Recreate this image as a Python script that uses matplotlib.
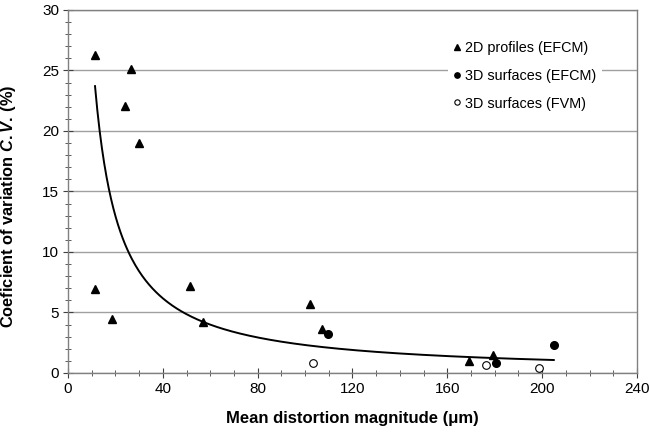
import numpy as np
import matplotlib
matplotlib.use('Agg')
import matplotlib.pyplot as plt
from matplotlib.ticker import MultipleLocator

plt.rcParams['font.family'] = ['Liberation Sans', 'DejaVu Sans']
plt.rcParams['mathtext.fontset'] = 'custom'
plt.rcParams['mathtext.it'] = 'Liberation Sans:italic:bold'
plt.rcParams['mathtext.rm'] = 'Liberation Sans:bold'

# 2D profiles (EFCM)
tri_x = [11.4, 26.6, 24.0, 30.0, 11.4, 18.4, 51.5, 56.8, 102.1, 107.0, 169.3, 179.2]
tri_y = [26.3, 25.1, 22.1, 19.0, 6.9, 4.5, 7.2, 4.2, 5.7, 3.6, 1.0, 1.5]
# 3D surfaces (EFCM)
fill_x = [109.8, 180.5, 204.9]
fill_y = [3.25, 0.8, 2.35]
# 3D surfaces (FVM)
open_x = [103.5, 176.2, 198.6]
open_y = [0.8, 0.63, 0.44]
# power trend line y = a*x^b
trend_a = 322.0
trend_b = -1.072
trend_range = [11.4, 204.9]

fig = plt.figure(figsize=(6.5, 4.33), dpi=100)
ax = fig.add_axes([0.1046, 0.1386, 0.8754, 0.8384])

xs = np.linspace(trend_range[0], trend_range[1], 400)
ax.plot(xs, trend_a * xs ** trend_b, color='black', lw=1.4, zorder=2)

ax.plot(tri_x, tri_y, '^', color='black', ms=6, ls='none', label='2D profiles (EFCM)', zorder=3)
ax.plot(fill_x, fill_y, 'o', color='black', ms=5.5, ls='none', label='3D surfaces (EFCM)', zorder=3)
ax.plot(open_x, open_y, 'o', mfc='white', mec='black', mew=0.8, ms=5.5, ls='none',
        label='3D surfaces (FVM)', zorder=3)

ax.set_xlim(0, 240)
ax.set_ylim(0, 30)
ax.xaxis.set_major_locator(MultipleLocator(40))
ax.xaxis.set_minor_locator(MultipleLocator(10))
ax.yaxis.set_major_locator(MultipleLocator(5))
ax.yaxis.set_minor_locator(MultipleLocator(1))
ax.grid(axis='y', which='major', color='#a0a0a0', lw=1.0, zorder=0)
ax.set_axisbelow(True)

for s in ax.spines.values():
    s.set_color('#808080')
    s.set_linewidth(1.0)
ax.tick_params(which='major', direction='inout', length=7, color='#404040', labelsize=11, pad=3)
ax.tick_params(which='minor', direction='inout', length=4, color='#404040')
ax.tick_params(axis='x', which='both', top=False)
ax.tick_params(axis='y', which='both', right=False)

ax.set_xlabel('Mean distortion magnitude (\u03bcm)', fontsize=12, fontweight='bold', labelpad=11)
ax.set_ylabel(r'Coeficient of variation $C.V.\,\mathrm{(\%)}$', fontsize=11.8, fontweight='bold')
ax.yaxis.set_label_coords(-0.088, 0.46)

leg = ax.legend(loc='upper left', bbox_to_anchor=(0.655, 0.95), fontsize=10.4, frameon=True,
                handlelength=0.5, handletextpad=0.3, labelspacing=0.95, borderpad=0.4,
                markerscale=0.7)
leg.get_frame().set_facecolor('white')
leg.get_frame().set_edgecolor('none')
leg.get_frame().set_alpha(1)

fig.savefig('out.png', dpi=100)
